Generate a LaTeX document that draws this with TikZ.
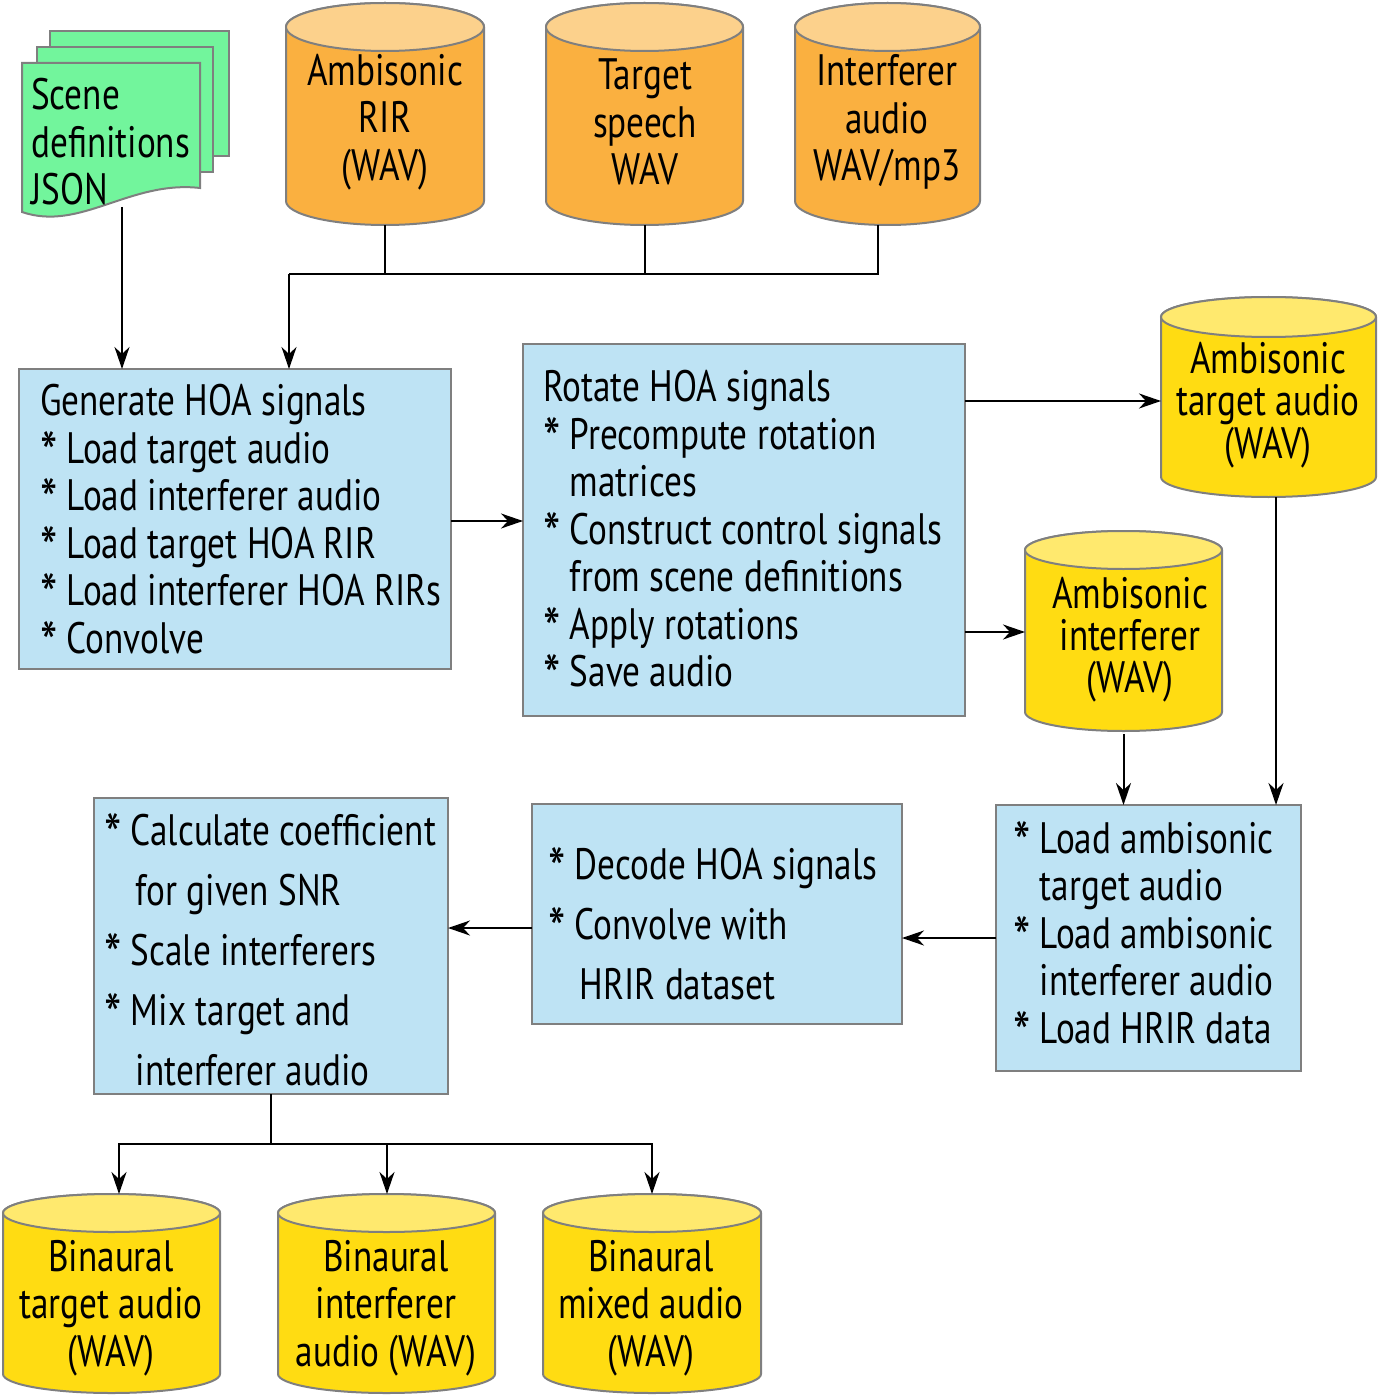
\documentclass[tikz,border=0pt]{standalone}
\usepackage{graphicx}
\usepackage{fontspec}
\setmainfont{PT Sans}[FakeStretch=0.8]
\usetikzlibrary{arrows.meta,calc}
\definecolor{boxblue}{HTML}{BEE3F4}
\definecolor{bordgray}{HTML}{7F7F7F}
\definecolor{docgreen}{HTML}{72F59C}
\definecolor{orbody}{HTML}{FAB040}
\definecolor{ortop}{HTML}{FCD18C}
\definecolor{yebody}{HTML}{FFDC12}
\definecolor{yetop}{HTML}{FFE96E}
\newcommand\astk{\raisebox{-12pt}[0.6em][0pt]{\scalebox{1.4}{*}}}
\newcommand\indt{\hphantom{\astk\ }}
% name, x1, x2, ytop, ybot, ry, body colour, top colour
\newcommand\drawcyl[8]{%
  \pgfmathsetlengthmacro\cylrx{(#3-#2)/2*1pt}%
  \pgfmathsetlengthmacro\cylry{#6*1pt}%
  \pgfmathsetmacro\cylxc{(#3+#2)/2}%
  \pgfmathsetmacro\cylyt{#4+#6}%
  \pgfmathsetmacro\cylyb{#5-#6}%
  \pgfmathsetmacro\cylym{(#4+#5)/2}%
  \pgfmathsetlengthmacro\cylw{(#3-#2)*1pt}%
  \pgfmathsetlengthmacro\cylh{(#5-#4)*1pt}%
  \draw[bord, fill=#7] (#2,\cylyt) -- (#2,\cylyb)
     arc[start angle=180, end angle=360, x radius=\cylrx, y radius=\cylry]
     -- (#3,\cylyt)
     arc[start angle=0, end angle=180, x radius=\cylrx, y radius=\cylry] -- cycle;
  \draw[bord, fill=#8] (\cylxc,\cylyt) ellipse[x radius=\cylrx, y radius=\cylry];
  \node[inner sep=0pt, outer sep=0pt, minimum width=\cylw, minimum height=\cylh] (#1) at (\cylxc,\cylym) {};
}
\begin{document}
\begin{tikzpicture}[x=1pt,y=-1pt,
  conn/.style={line width=2pt},
  arr/.style={line width=2pt, -{Stealth[length=22pt,width=15pt,inset=7pt]}},
  bord/.style={draw=bordgray, line width=2pt},
  box/.style={bord, fill=boxblue, rectangle, inner sep=0pt, outer sep=0pt, anchor=north west},
  txt/.style={font=\fontsize{44}{47.5}\selectfont, inner sep=0pt, align=left, anchor=west},
  ctxt/.style={font=\fontsize{44}{47.5}\selectfont, inner sep=0pt, align=center},
]
\useasboundingbox (0,0) rectangle (1378,1396);

% ---------- scene definitions document stack
\draw[bord, fill=docgreen] (50,31) rectangle (229,156);
\draw[bord, fill=docgreen] (37,47) rectangle (213,172);
\draw[bord, fill=docgreen] (22,63) -- (200,63) -- (200,188)
   .. controls (130,180) and (80,232) .. (22,212) -- cycle;
\node[txt] (scenetxt) at (31,142) {Scene\\definitions\\JSON};
\coordinate (scb) at (122,207);

% ---------- input cylinders
\drawcyl{rir}{286}{484}{3}{225}{24}{orbody}{ortop}
\node[ctxt] (rirtxt) at (385,122) {Ambisonic\\RIR\\(WAV)};
\drawcyl{tsp}{546}{743}{3}{225}{24}{orbody}{ortop}
\node[ctxt] (tsptxt) at (645,122) {Target\\speech\\WAV};
\drawcyl{intf}{795}{980}{3}{225}{24}{orbody}{ortop}
\node[ctxt] (intftxt) at (887,122) {Interferer\\audio\\WAV/mp3};

% ---------- process boxes
\node[box, minimum width=432pt, minimum height=300pt] (gen) at (19,369) {};
\node[txt] (gentxt) at (40,519) {Generate HOA signals\\\astk\ Load target audio\\\astk\ Load interferer audio\\\astk\ Load target HOA RIR\\\astk\ Load interferer HOA RIRs\\\astk\ Convolve};

\node[box, minimum width=442pt, minimum height=372pt] (rot) at (523,344) {};
\node[txt] (rottxt) at (543,529) {Rotate HOA signals\\\astk\ Precompute rotation\\\indt matrices\\\astk\ Construct control signals\\\indt from scene definitions\\\astk\ Apply rotations\\\astk\ Save audio};

\node[box, minimum width=305pt, minimum height=266pt] (load) at (996,805) {};
\node[txt] (loadtxt) at (1013,933) {\astk\ Load ambisonic\\\indt target audio\\\astk\ Load ambisonic\\\indt interferer audio\\\astk\ Load HRIR data};

\node[box, minimum width=370pt, minimum height=220pt] (dec) at (532,804) {};
\node[txt, font=\fontsize{44}{60}\selectfont] (dectxt) at (548,924) {\astk\ Decode HOA signals\\\astk\ Convolve with\\\indt\hspace{5pt}HRIR dataset};

\node[box, minimum width=354pt, minimum height=296pt] (calc) at (94,798) {};
\node[txt, font=\fontsize{44}{60}\selectfont] (calctxt) at (104,950) {\astk\ Calculate coefficient\\\indt\hspace{5pt}for given SNR\\\astk\ Scale interferers\\\astk\ Mix target and\\\indt\hspace{5pt}interferer audio};

% ---------- intermediate cylinders
\drawcyl{ambT}{1161}{1376}{297}{497}{20}{yebody}{yetop}
\node[ctxt, font=\fontsize{44}{42.5}\selectfont] (ambTtxt) at (1268,405) {Ambisonic\\target audio\\(WAV)};
\drawcyl{ambI}{1025}{1222}{531}{731}{19}{yebody}{yetop}
\node[ctxt, font=\fontsize{44}{42}\selectfont] (ambItxt) at (1130,640) {Ambisonic\\interferer\\(WAV)};

% ---------- output cylinders
\drawcyl{bt}{3}{220}{1194}{1393}{19}{yebody}{yetop}
\node[ctxt] (bttxt) at (111,1308) {Binaural\\target audio\\(WAV)};
\drawcyl{bi}{278}{495}{1194}{1393}{19}{yebody}{yetop}
\node[ctxt] (bitxt) at (386,1308) {Binaural\\interferer\\audio (WAV)};
\drawcyl{bm}{543}{761}{1194}{1393}{19}{yebody}{yetop}
\node[ctxt] (bmtxt) at (651,1308) {Binaural\\mixed audio\\(WAV)};

% ---------- connectors
\draw[arr] (scb) -- (scb |- gen.north);
\coordinate (bus) at (289,274);
\coordinate (intb) at (878,225);
\draw[conn] (rir.south) -- (rir.south |- bus);
\draw[conn] (tsp.south) -- (tsp.south |- bus);
\draw[conn] (intb) -- (intb |- bus) -- (bus);
\draw[arr] (bus) -- (bus |- gen.north);

\coordinate (g1) at ($(gen.north east)+(0,152)$);
\draw[arr] (g1) -- (g1 -| rot.west);

\coordinate (r1) at ($(rot.north east)+(0,57)$);
\draw[arr] (r1) -- (r1 -| ambT.west);
\coordinate (r2) at ($(rot.north east)+(0,288)$);
\draw[arr] (r2) -- (r2 -| ambI.west);

\coordinate (ai) at ($(ambI.south)+(0,3)$);
\draw[arr] (ai) -- (ai |- load.north);
\coordinate (at) at ($(ambT.south)+(7.5,0)$);
\draw[arr] (at) -- (at |- load.north);

\coordinate (l1) at ($(load.north west)+(0,133)$);
\draw[arr] (l1) -- (l1 -| dec.east);
\coordinate (d1) at ($(dec.north west)+(0,124)$);
\draw[arr] (d1) -- (d1 -| calc.east);

\coordinate (cs) at (271,1144);
\coordinate (t1) at ($(bt.north)+(7.5,0)$);
\coordinate (t2) at ($(bi.north)+(0.5,0)$);
\coordinate (t3) at (bm.north);
\draw[conn] (calc.south) -- (cs);
\draw[arr] (cs) -| (t1);
\draw[arr] (cs) -| (t2);
\draw[arr] (cs) -| (t3);
\end{tikzpicture}
\end{document}
